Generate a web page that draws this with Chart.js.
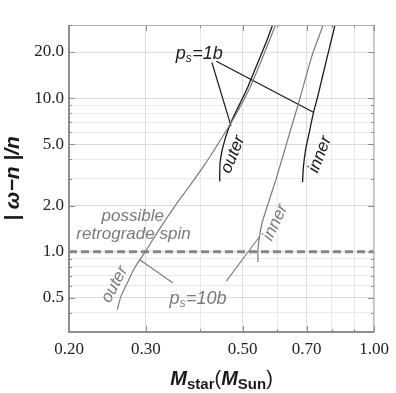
<!DOCTYPE html>
<html>
<head>
<meta charset="utf-8">
<script src="https://cdn.jsdelivr.net/npm/chart.js@4.4.0/dist/chart.umd.min.js"></script>
<style>
  html, body { margin: 0; padding: 0; background: #fff; }
  #wrap { width: 396px; height: 393px; }
</style>
</head>
<body>
<div id="wrap"><canvas id="chart" width="396" height="393"></canvas></div>
<script>
// stellar mass (M_sun) against |omega - n| / n
const outer1bMass  = [0.443, 0.443, 0.444, 0.448, 0.454, 0.4615, 0.471, 0.484, 0.498, 0.514, 0.530, 0.550, 0.568, 0.586];
const outer1bRatio = [2.87, 3.33, 3.87, 4.50, 5.23, 6.07, 7.05, 8.32, 9.81, 11.9, 14.7, 19.0, 23.8, 30.2];

const inner1bMass  = [0.6855, 0.689, 0.697, 0.710, 0.726, 0.743, 0.765, 0.7885, 0.814];
const inner1bRatio = [2.84, 3.61, 4.64, 5.95, 8.04, 10.3, 14.6, 20.8, 30.2];

const outer10bMass  = [0.258, 0.263, 0.273, 0.283, 0.299, 0.322, 0.349, 0.377, 0.408, 0.441, 0.478, 0.517, 0.553, 0.595];
const outer10bRatio = [0.42, 0.51, 0.64, 0.79, 1.00, 1.40, 1.97, 2.66, 3.65, 5.15, 7.49, 11.4, 17.9, 30.2];

const inner10bMass  = [0.5415, 0.542, 0.546, 0.554, 0.569, 0.596, 0.634, 0.671, 0.720, 0.765];
const inner10bRatio = [0.856, 1.035, 1.25, 1.55, 1.98, 2.96, 5.38, 9.24, 18.8, 30.2];

const retrogradeLevel = 1.0;

// leader lines from the labels to the curves: [mass, ratio] ends
const lead1bOuter  = [[0.425, 17.1], [0.470, 6.6]];
const lead1bInner  = [[0.435, 17.4], [0.726, 8.1]];
const lead10bOuter = [[0.290, 0.891], [0.3455, 0.628]];
const lead10bInner = [[0.4586, 0.6435], [0.546, 1.252]];

const xTickValues = [0.2, 0.3, 0.5, 0.7, 1.0];
const xTickLabels = ['0.20', '0.30', '0.50', '0.70', '1.00'];
const xGridValues = [0.2, 0.3, 0.4, 0.5, 0.6, 0.7, 0.8, 0.9, 1.0];

const yTickValues = [0.5, 1, 2, 5, 10, 20];
const yTickLabels = ['0.5', '1.0', '2.0', '5.0', '10.0', '20.0'];
const yGridValues = [0.3, 0.4, 0.5, 0.6, 0.7, 0.8, 0.9, 1, 2, 3, 4, 5, 6, 7, 8, 9, 10, 20, 30];

const BLACK = '#1a1a1a';
const GRAY = '#7a7a7a';

// text placed in data coordinates
const notes = [
  { text: 'outer', x: 0.475, y: 4.30, rot: -68, color: BLACK },
  { text: 'inner', x: 0.752, y: 4.30, rot: -69, color: BLACK },
  { text: 'inner', x: 0.594, y: 1.55, rot: -65, color: GRAY },
  { text: 'outer', x: 0.2545, y: 0.6125, rot: -62, color: GRAY },
  { text: 'possible', x: 0.280, y: 1.575, rot: 0, color: GRAY, base: 'alphabetic' },
  { text: 'retrograde spin', x: 0.281, y: 1.202, rot: 0, color: GRAY, base: 'alphabetic' }
];
const psNotes = [
  { sub: '1b', x: 0.351, y: 17.9, color: BLACK },
  { sub: '10b', x: 0.3396, y: 0.46, color: GRAY }
];

function pts(xs, ys) {
  return xs.map((x, i) => ({ x: x, y: ys[i] }));
}
function seg(pair) {
  return pair.map(p => ({ x: p[0], y: p[1] }));
}
function near(list, v) {
  return list.findIndex(t => Math.abs(t - v) < 1e-6);
}

function curve(data, color, width, tension) {
  return { data: data, borderColor: color, borderWidth: width, pointRadius: 0, tension: tension, clip: 0, fill: false };
}

const datasets = [
  curve(pts(outer10bMass, outer10bRatio), GRAY, 1.2, 0.3),
  curve(pts(inner10bMass, inner10bRatio), GRAY, 1.2, 0.15),
  curve(pts(outer1bMass, outer1bRatio), BLACK, 1.3, 0.3),
  curve(pts(inner1bMass, inner1bRatio), BLACK, 1.3, 0.3),
  curve(seg(lead10bOuter), GRAY, 1.1, 0),
  curve(seg(lead10bInner), GRAY, 1.1, 0),
  curve(seg(lead1bOuter), BLACK, 1.2, 0),
  curve(seg(lead1bInner), BLACK, 1.2, 0),
  Object.assign(curve([{ x: 0.2, y: retrogradeLevel }, { x: 1.0, y: retrogradeLevel }], '#858585', 3, 0),
    { borderDash: [8, 4] })
];

const decor = {
  id: 'decor',
  afterDraw(chart) {
    const ctx = chart.ctx;
    const a = chart.chartArea;
    const xs = chart.scales.x, ys = chart.scales.y;
    ctx.save();

    // frame
    ctx.lineCap = 'butt';
    ctx.strokeStyle = '#b4b4b4';
    ctx.lineWidth = 1;
    ctx.beginPath();
    ctx.moveTo(a.left, a.top + 0.5); ctx.lineTo(a.right, a.top + 0.5);
    ctx.moveTo(a.right - 0.5, a.top); ctx.lineTo(a.right - 0.5, a.bottom);
    ctx.stroke();
    ctx.strokeStyle = '#8e8e8e';
    ctx.lineWidth = 2;
    ctx.beginPath();
    ctx.moveTo(a.left, a.top); ctx.lineTo(a.left, a.bottom);
    ctx.lineTo(a.right, a.bottom);
    ctx.stroke();

    // inner tick marks on every side
    ctx.strokeStyle = '#8e8e8e';
    ctx.lineWidth = 1;
    ctx.beginPath();
    xGridValues.forEach(v => {
      const px = Math.round(xs.getPixelForValue(v)) + 0.5;
      const len = near(xTickValues, v) >= 0 ? 6 : 3;
      ctx.moveTo(px, a.bottom); ctx.lineTo(px, a.bottom - len);
      ctx.moveTo(px, a.top); ctx.lineTo(px, a.top + len);
    });
    yGridValues.forEach(v => {
      const py = Math.round(ys.getPixelForValue(v)) + 0.5;
      const len = near(yTickValues, v) >= 0 ? 6 : 3;
      ctx.moveTo(a.left, py); ctx.lineTo(a.left + len, py);
      ctx.moveTo(a.right, py); ctx.lineTo(a.right - len, py);
    });
    ctx.stroke();

    // curve labels
    ctx.font = 'italic 17px "Liberation Sans", Arial, sans-serif';
    notes.forEach(n => {
      ctx.save();
      ctx.translate(xs.getPixelForValue(n.x), ys.getPixelForValue(n.y));
      ctx.rotate(n.rot * Math.PI / 180);
      ctx.fillStyle = n.color;
      ctx.textAlign = 'center';
      ctx.textBaseline = n.base || 'middle';
      ctx.fillText(n.text, 0, 0);
      ctx.restore();
    });

    // p_s = ... labels
    psNotes.forEach(n => {
      let px = xs.getPixelForValue(n.x);
      const py = ys.getPixelForValue(n.y);
      ctx.fillStyle = n.color;
      ctx.textAlign = 'left';
      ctx.textBaseline = 'alphabetic';
      ctx.font = 'italic 18px "Liberation Sans", Arial, sans-serif';
      ctx.fillText('p', px, py);
      px += ctx.measureText('p').width;
      ctx.font = 'italic 12px "Liberation Sans", Arial, sans-serif';
      ctx.fillText('s', px, py + 3);
      px += ctx.measureText('s').width + 0.5;
      ctx.font = 'italic 18px "Liberation Sans", Arial, sans-serif';
      ctx.fillText('=' + n.sub, px, py);
    });

    // x axis title with subscripts
    const runs = [
      { t: 'M', f: 'italic bold 20px "Liberation Sans", Arial, sans-serif', dy: 0 },
      { t: 'star', f: 'bold 15px "Liberation Sans", Arial, sans-serif', dy: 4 },
      { t: '(', f: '20px "Liberation Sans", Arial, sans-serif', dy: 0 },
      { t: 'M', f: 'italic bold 20px "Liberation Sans", Arial, sans-serif', dy: 0 },
      { t: 'Sun', f: 'bold 15px "Liberation Sans", Arial, sans-serif', dy: 4 },
      { t: ')', f: '20px "Liberation Sans", Arial, sans-serif', dy: 0 }
    ];
    let total = 0;
    runs.forEach(r => { ctx.font = r.f; r.w = ctx.measureText(r.t).width; total += r.w; });
    let cx = (a.left + a.right) / 2 - total / 2;
    ctx.fillStyle = BLACK;
    ctx.textAlign = 'left';
    ctx.textBaseline = 'alphabetic';
    runs.forEach(r => { ctx.font = r.f; ctx.fillText(r.t, cx, 385 + r.dy); cx += r.w; });

    // y axis title
    ctx.save();
    ctx.translate(13, (a.top + a.bottom) / 2);
    ctx.rotate(-Math.PI / 2);
    ctx.font = 'italic bold 21px "Liberation Sans", Arial, sans-serif';
    ctx.textAlign = 'center';
    ctx.textBaseline = 'middle';
    ctx.fillText('| \u03C9\u2212n |/n', 0, 0);
    ctx.restore();

    ctx.restore();
  }
};

new Chart(document.getElementById('chart'), {
  type: 'line',
  data: { datasets: datasets },
  options: {
    responsive: false,
    animation: false,
    devicePixelRatio: 1,
    layout: { padding: { left: 0, top: 25, right: 20, bottom: 0 } },
    plugins: { legend: { display: false }, tooltip: { enabled: false } },
    scales: {
      x: {
        type: 'logarithmic',
        min: 0.2,
        max: 1.0,
        afterBuildTicks: s => { s.ticks = xGridValues.map(v => ({ value: v })); },
        afterFit: s => { s.height = 61; },
        border: { display: false },
        grid: {
          drawTicks: false,
          color: c => near(xTickValues, c.tick.value) >= 0 ? '#dcdcdc' : '#e9e9e9',
          lineWidth: 1
        },
        ticks: {
          autoSkip: false,
          maxRotation: 0,
          padding: 7,
          color: '#222',
          font: { family: '"Liberation Serif", "Times New Roman", serif', size: 17 },
          callback: v => { const i = near(xTickValues, v); return i >= 0 ? xTickLabels[i] : ''; }
        }
      },
      y: {
        type: 'logarithmic',
        min: 0.3,
        max: 30,
        afterBuildTicks: s => { s.ticks = yGridValues.map(v => ({ value: v })); },
        afterFit: s => { s.width = 69; },
        border: { display: false },
        grid: {
          drawTicks: false,
          color: c => near(yTickValues, c.tick.value) >= 0 ? '#dcdcdc' : '#e9e9e9',
          lineWidth: 1
        },
        ticks: {
          autoSkip: false,
          padding: 5,
          color: '#222',
          font: { family: '"Liberation Serif", "Times New Roman", serif', size: 17 },
          callback: v => { const i = near(yTickValues, v); return i >= 0 ? yTickLabels[i] : ''; }
        }
      }
    }
  },
  plugins: [decor]
});
</script>
</body>
</html>
